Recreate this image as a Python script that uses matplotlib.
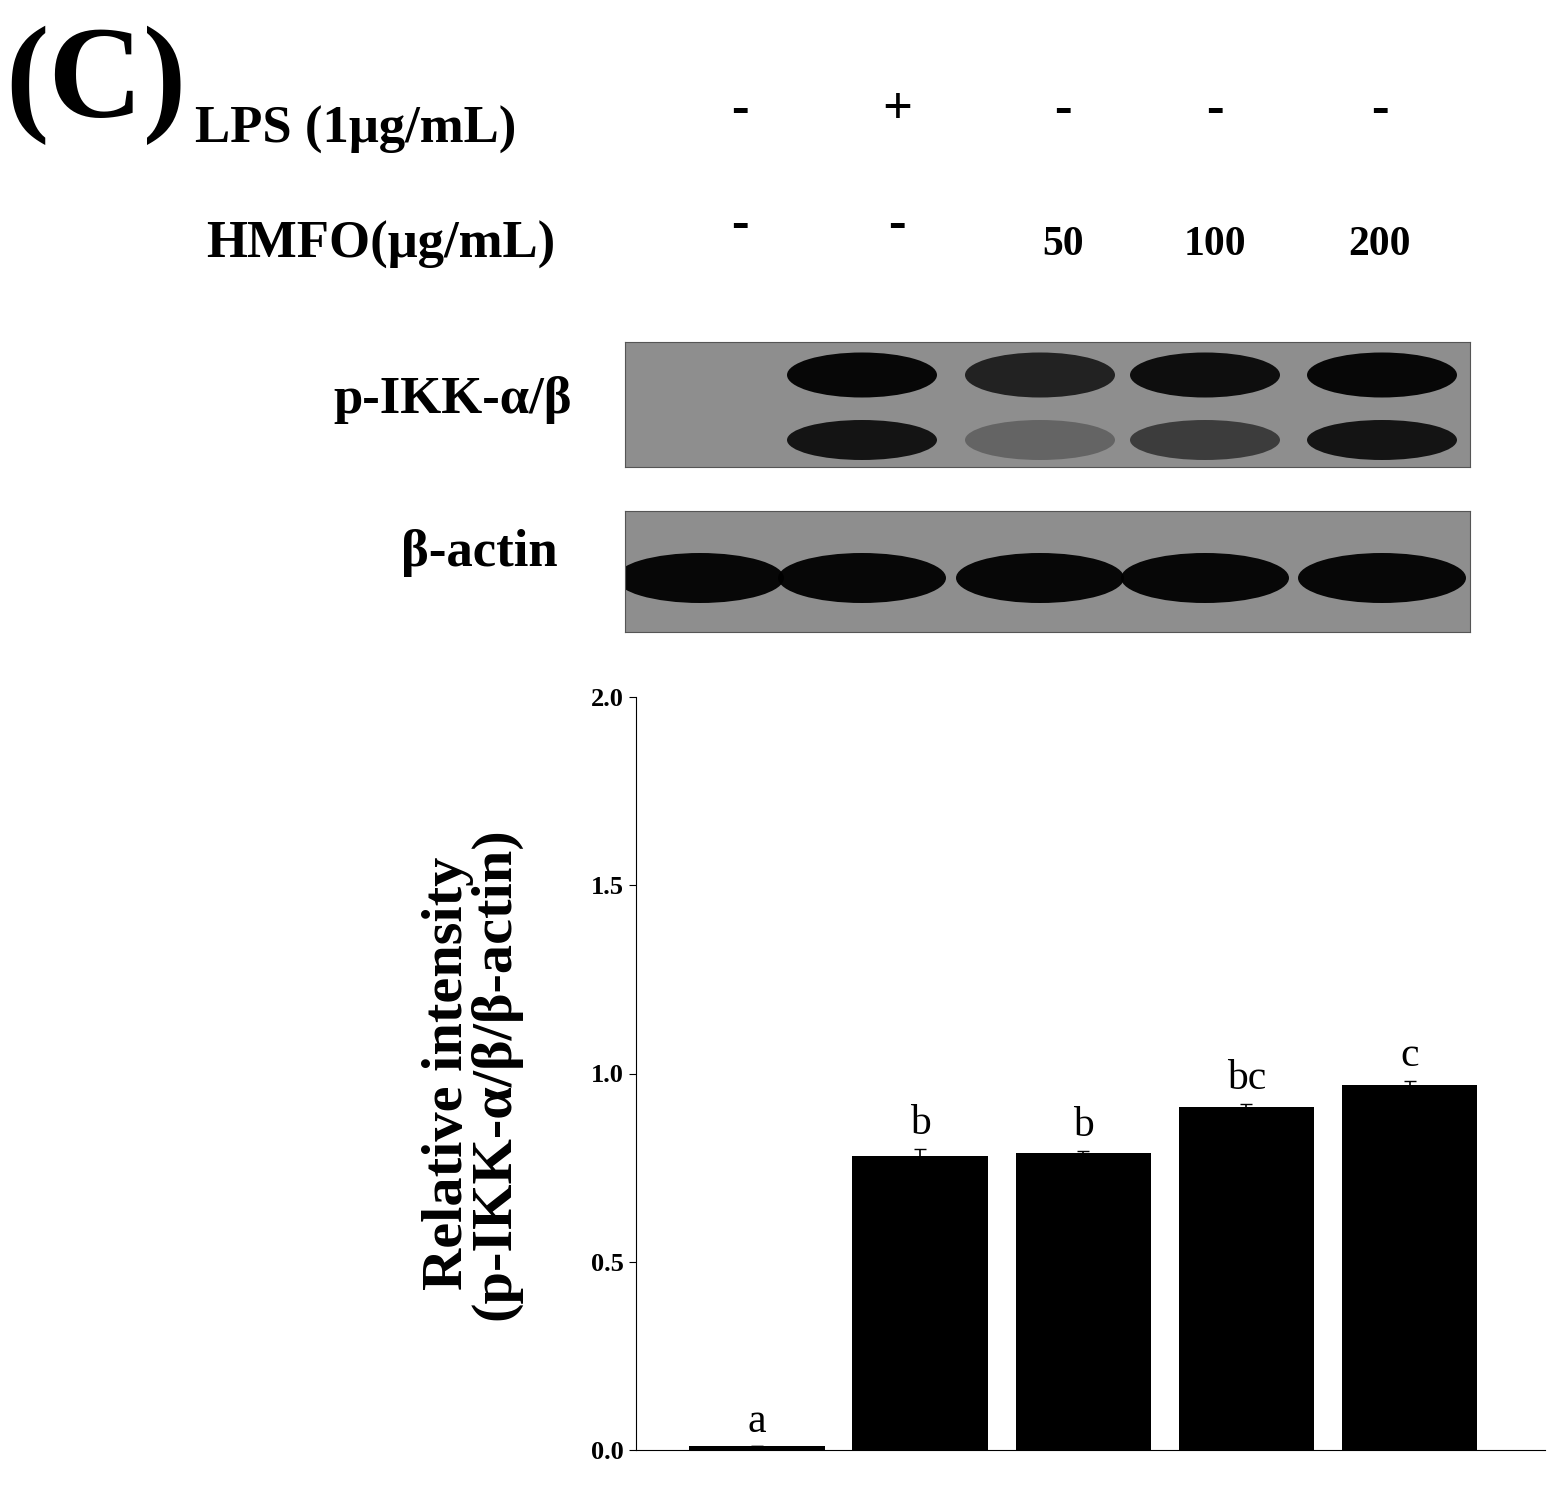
import numpy as np
import matplotlib.pyplot as plt
from matplotlib.patches import Ellipse

plt.rcParams['font.family'] = ['Liberation Serif', 'DejaVu Serif']
plt.rcParams['font.weight'] = 'bold'

# bar data
groups = ['ctrl', 'LPS', 'HMFO 50', 'HMFO 100', 'HMFO 200']
values = [0.01, 0.78, 0.79, 0.91, 0.97]
errors = [0.0, 0.02, 0.005, 0.01, 0.01]
letters = ['a', 'b', 'b', 'bc', 'c']

# header rows
lps_signs = ['-', '+', '-', '-', '-']
hmfo_labels = ['-', '-', '50', '100', '200']
header_x = [740, 897, 1063, 1215, 1380]

# blot lanes (pixel centres) and band strengths
lane_x = [700, 862, 1040, 1205, 1382]
ikk_upper = [0.0, 1.0, 0.8, 0.95, 1.0]
ikk_lower = [0.0, 0.9, 0.3, 0.6, 0.9]
actin = [1.0, 1.0, 1.0, 1.0, 1.0]

W, H = 1550, 1486
fig = plt.figure(figsize=(W / 100, H / 100), dpi=100)

def fx(px):
    return px / W

def fy(py):
    return 1 - py / H

fig.text(fx(5), fy(85), '(C)', fontsize=94, ha='left', va='center')
fig.text(fx(195), fy(130), 'LPS (1μg/mL)', fontsize=38, ha='left', va='center')
fig.text(fx(555), fy(245), 'HMFO(μg/mL)', fontsize=38, ha='right', va='center')
for x, s in zip(header_x, lps_signs):
    fig.text(fx(x), fy(110), s, fontsize=38, ha='center', va='center')
for x, s in zip(header_x, hmfo_labels):
    fig.text(fx(x), fy(245 if s != '-' else 225), s, fontsize=30 if s != '-' else 38,
             ha='center', va='center')
fig.text(fx(572), fy(400), 'p-IKK-α/β', fontsize=38, ha='right', va='center')
fig.text(fx(558), fy(553), 'β-actin', fontsize=38, ha='right', va='center')

def blot(top, bottom, bands):
    ax = fig.add_axes([fx(625), fy(bottom), fx(1470 - 625), (bottom - top) / H])
    ax.set_xlim(625, 1470)
    ax.set_ylim(bottom, top)
    ax.set_facecolor('#8e8e8e')
    for s in ax.spines.values():
        s.set_color('#555555')
    ax.set_xticks([])
    ax.set_yticks([])
    for yc, wid, hgt, strengths in bands:
        for x, st in zip(lane_x, strengths):
            if st <= 0:
                continue
            g = 0.55 * (1 - st)
            ax.add_patch(Ellipse((x, yc), wid, hgt, color=(g, g, g), alpha=0.95, lw=0))
    return ax

blot(342, 467, [(375, 150, 45, ikk_upper), (440, 150, 40, ikk_lower)])
blot(511, 632, [(578, 168, 50, actin)])

# bar chart
ax = fig.add_axes([fx(636), fy(1450), fx(1545 - 636), (1450 - 697) / H])
x = np.arange(len(values))
ax.bar(x, values, width=0.83, color='black', yerr=errors, capsize=4,
       error_kw=dict(ecolor='black', lw=1.2))
for xi, v, e, l in zip(x, values, errors, letters):
    ax.text(xi, v + e + 0.015, l, ha='center', va='bottom', fontsize=30, fontweight='normal')
ax.set_xlim(-0.742, 4.83)
ax.set_ylim(0, 2.0)
ax.set_yticks([0, 0.5, 1.0, 1.5, 2.0])
ax.set_yticklabels(['0.0', '0.5', '1.0', '1.5', '2.0'], fontsize=19, fontweight='bold')
ax.set_xticks([])
ax.spines['top'].set_visible(False)
ax.spines['right'].set_visible(False)
ax.tick_params(axis='y', direction='out', length=5)
ax.set_ylabel('Relative intensity\n(p-IKK-α/β/β-actin)', fontsize=42, fontweight='bold',
              labelpad=50, linespacing=0.9)

fig.savefig('out.png', dpi=100)
